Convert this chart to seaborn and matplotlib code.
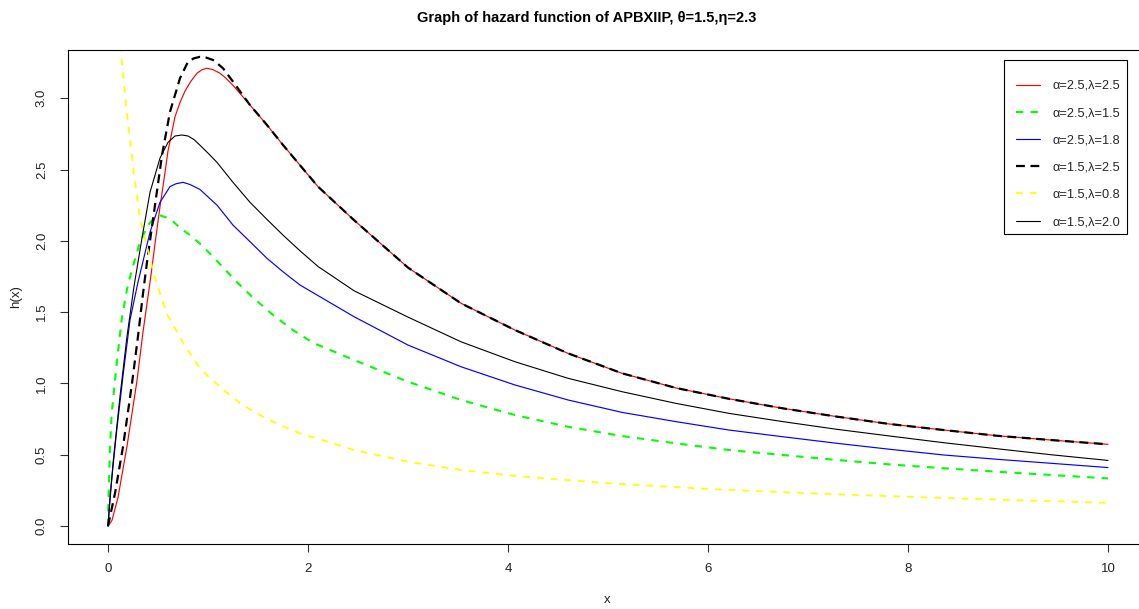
import numpy as np
import pandas as pd
import matplotlib
matplotlib.use("Agg")
import matplotlib.pyplot as plt
from matplotlib.patches import Rectangle
from matplotlib.transforms import Bbox
import seaborn as sns

# ---------------- data ----------------
title = "Graph of hazard function of APBXIIP, \u03b8=1.5,\u03b7=2.3"
labels = ["\u03b1=2.5,\u03bb=2.5", "\u03b1=2.5,\u03bb=1.5", "\u03b1=2.5,\u03bb=1.8",
          "\u03b1=1.5,\u03bb=2.5", "\u03b1=1.5,\u03bb=0.8", "\u03b1=1.5,\u03bb=2.0"]

tail_x = [1.42, 1.59, 1.75, 1.92, 2.10, 2.46, 3.00, 3.53, 4.07, 4.60, 5.14, 5.68,
          6.21, 6.75, 7.29, 7.82, 8.36, 8.89, 9.43, 10.0]
tail_rb = [2.952, 2.812, 2.672, 2.53, 2.38, 2.145, 1.812, 1.562, 1.374, 1.211, 1.071,
           0.968, 0.892, 0.825, 0.767, 0.715, 0.673, 0.633, 0.603, 0.573]

red_x = [0, 0.04, 0.10, 0.19, 0.29, 0.35, 0.43, 0.47, 0.52, 0.56, 0.60, 0.67, 0.72,
         0.77, 0.83, 0.89, 0.94, 0.99, 1.05, 1.12, 1.18, 1.25] + tail_x
red_y = [0, 0.04, 0.20, 0.56, 1.02, 1.36, 1.76, 1.98, 2.24, 2.43, 2.63, 2.87, 2.97,
         3.05, 3.12, 3.175, 3.20, 3.21, 3.20, 3.175, 3.14, 3.09] + tail_rb

kd_x = [0, 0.07, 0.15, 0.24, 0.30, 0.35, 0.39, 0.47, 0.54, 0.62, 0.72, 0.80, 0.86,
        0.92, 0.98, 1.05, 1.10, 1.15, 1.25] + tail_x
kd_y = [0, 0.23, 0.556, 1.0, 1.33, 1.63, 1.85, 2.25, 2.60, 2.905, 3.14, 3.256, 3.28,
        3.29, 3.285, 3.268, 3.24, 3.21, 3.116] + tail_rb

ks_x = [0, 0.05, 0.12, 0.19, 0.26, 0.34, 0.42, 0.52, 0.60, 0.67, 0.74, 0.80, 0.86,
        0.92, 1.00, 1.09, 1.25, 1.42, 1.59, 1.75, 1.92, 2.10, 2.46, 3.00, 3.53, 4.07,
        4.60, 5.14, 5.68, 6.21, 6.75, 7.29, 7.82, 8.36, 8.89, 9.43, 10.0]
ks_y = [0, 0.44, 0.91, 1.33, 1.68, 2.02, 2.34, 2.58, 2.69, 2.735, 2.742, 2.735, 2.71,
        2.67, 2.615, 2.55, 2.41, 2.27, 2.15, 2.04, 1.93, 1.82, 1.65, 1.465, 1.292,
        1.152, 1.036, 0.942, 0.860, 0.790, 0.732, 0.678, 0.631, 0.584, 0.542, 0.500,
        0.460]

blue_x = [0, 0.02, 0.087, 0.153, 0.22, 0.30, 0.42, 0.52, 0.62, 0.68, 0.75, 0.82, 0.92,
          1.09, 1.25, 1.42, 1.59, 1.75, 1.92, 2.46, 3.00, 3.53, 4.07, 4.60, 5.14, 5.68,
          6.21, 6.75, 7.29, 7.82, 8.36, 8.89, 9.43, 10.0]
blue_y = [0, 0.21, 0.67, 1.07, 1.445, 1.71, 2.06, 2.27, 2.38, 2.40, 2.41, 2.395, 2.36,
          2.25, 2.11, 1.994, 1.877, 1.783, 1.69, 1.468, 1.269, 1.117, 0.989, 0.884,
          0.797, 0.732, 0.673, 0.626, 0.580, 0.538, 0.498, 0.468, 0.440, 0.410]

green_x = [0, 0.005, 0.02, 0.037, 0.087, 0.137, 0.19, 0.24, 0.32, 0.40, 0.45, 0.52,
           0.60, 0.66, 0.72, 0.82, 0.92, 1.02, 1.29, 1.44, 1.65, 1.85, 2.05, 2.46, 3.00,
           3.53, 4.07, 4.60, 5.14, 5.68, 6.21, 6.75, 7.29, 7.82, 8.36, 8.89, 9.43, 10.0]
green_y = [0, 0.20, 0.55, 0.79, 1.14, 1.45, 1.66, 1.80, 1.99, 2.11, 2.15, 2.178, 2.16,
           2.13, 2.09, 2.04, 1.98, 1.91, 1.71, 1.608, 1.48, 1.374, 1.285, 1.164, 1.012,
           0.884, 0.778, 0.696, 0.631, 0.580, 0.533, 0.498, 0.463, 0.432, 0.405, 0.381,
           0.358, 0.334]

yellow_x = [0.11, 0.127, 0.187, 0.253, 0.32, 0.42, 0.47, 0.587, 0.753, 0.92, 1.02,
            1.12, 1.32, 1.52, 1.72, 1.92, 2.09, 2.46, 3.00, 3.53, 4.07, 5.0, 6.0, 7.0,
            8.0, 9.0, 10.0]
yellow_y = [3.47, 3.34, 2.905, 2.508, 2.158, 1.877, 1.737, 1.49, 1.281, 1.106, 1.036,
            0.977, 0.86, 0.778, 0.708, 0.65, 0.615, 0.533, 0.451, 0.393, 0.351, 0.30,
            0.26, 0.23, 0.205, 0.183, 0.163]

xticks = [0, 2, 4, 6, 8, 10]
yticks = [0.0, 0.5, 1.0, 1.5, 2.0, 2.5, 3.0]

# ---------------- style ----------------
sns.set_theme(style="white")
plt.rcParams['font.family'] = ['Liberation Sans', 'DejaVu Sans']

W, H = 1139, 609          # final picture
FW = 1160                 # drawing canvas is a bit wider; the frame's right side is cut off
fig = plt.figure(figsize=(FW / 100, H / 100), dpi=100)
fig.patch.set_facecolor('white')
ax = fig.add_axes([68 / FW, 1 - 544 / H, 1080 / FW, 494 / H])
ax.set_facecolor('white')

series = [
    (labels[0], red_x, red_y, '#FF0000', 0.85, None),
    (labels[1], green_x, green_y, '#00FF00', 1.5, (3.5, 3.5)),
    (labels[2], blue_x, blue_y, '#0000FF', 0.85, None),
    (labels[3], kd_x, kd_y, '#000000', 1.6, (4, 2.5)),
    (labels[4], yellow_x, yellow_y, '#FFFF00', 1.3, (3.8, 3.8)),
    (labels[5], ks_x, ks_y, '#000000', 0.8, None),
]

for name, xs, ys, col, lw, dash in series:
    df = pd.DataFrame({'x': xs, 'h': ys})
    sns.lineplot(data=df, x='x', y='h', ax=ax, color=col, linewidth=lw,
                 sort=False, estimator=None, label=name)
    line = ax.get_lines()[-1]
    if dash is not None:
        line.set_dashes(dash)

ax.set_xlim(-0.4, 10.4)
ax.set_ylim(-0.126, 3.338)
ax.set_xticks(xticks)
ax.set_xticklabels([str(t) for t in xticks])
ax.set_yticks(yticks)
ax.set_yticklabels([f"{t:.1f}" for t in yticks], rotation=90, va='center')
ax.set_xlabel('')
ax.set_ylabel('')

for name, sp in ax.spines.items():
    sp.set_visible(True)
    sp.set_color('black')
    sp.set_linewidth(0.8)

ax.tick_params(axis='both', which='major', direction='out', length=5.5, width=0.8,
               color='#333333', labelsize=9.5, labelcolor='#222222',
               bottom=True, left=True)
ax.tick_params(axis='x', pad=8)
ax.tick_params(axis='y', pad=9)

fig.text(587 / FW, 1 - 18 / H, title, ha='center', va='center',
         fontweight='bold', fontsize=10.5, color='black')
fig.text(607 / FW, 1 - 600 / H, 'x', ha='center', va='center', fontsize=9.5,
         color='#222222')
fig.text(16 / FW, 1 - 297 / H, 'h(x)', ha='center', va='center', rotation=90,
         fontsize=9.5, color='#222222')

# legend box (R style: square frame, entries inset)
box = Rectangle((1004 / FW, 1 - 234 / H), 123 / FW, 174 / H, transform=fig.transFigure,
                facecolor='white', edgecolor='black', linewidth=0.8, zorder=4,
                clip_on=False)
ax.add_patch(box)

handles, labs = ax.get_legend_handles_labels()
leg = ax.legend(handles, labs, loc='upper left',
                bbox_to_anchor=(1016 / FW, 1 - 80 / H), bbox_transform=fig.transFigure,
                frameon=False, fontsize=9.2, handlelength=1.9, handletextpad=0.94,
                labelspacing=1.19, borderpad=0, borderaxespad=0)
leg.set_zorder(5)

fig.savefig('out.png', dpi=100, facecolor='white',
            bbox_inches=Bbox([[0, 0], [W / 100, H / 100]]))
